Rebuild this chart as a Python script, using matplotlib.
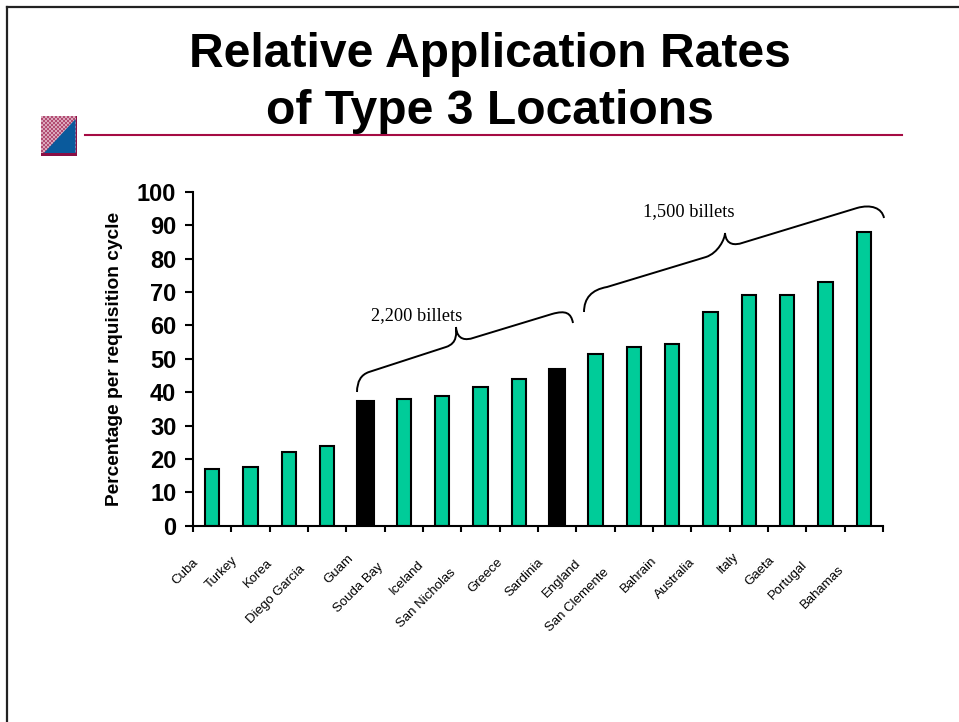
import matplotlib
matplotlib.use('Agg')
import matplotlib.pyplot as plt
from matplotlib.path import Path
from matplotlib.patches import PathPatch, Rectangle, Polygon
from matplotlib.transforms import ScaledTranslation
import numpy as np

locations = ['Cuba', 'Turkey', 'Korea', 'Diego Garcia', 'Guam', 'Souda Bay', 'Iceland',
             'San Nicholas', 'Greece', 'Sardinia', 'England', 'San Clemente', 'Bahrain',
             'Australia', 'Italy', 'Gaeta', 'Portugal', 'Bahamas']
rates = [17, 17.5, 22, 24, 37.5, 38, 39, 41.5, 44, 47, 51.5, 53.5, 54.5, 64, 69, 69, 73, 88]
highlighted = ['Guam', 'Sardinia']

# where the end of each slanted label sits relative to its bar, in pixels
label_dx = [-14, -13, -16, -22, -12, -21, -19, -25, -16, -14, -15, -25, -15, -15, -10, -13, -18, -20]
label_y = [557, 555, 557, 563, 553, 561, 559, 567, 556, 557, 557, 567, 555, 557, 551, 555, 559, 564]

W, H = 959, 722
plt.rcParams['font.family'] = ['Liberation Sans', 'DejaVu Sans']
fig = plt.figure(figsize=(W / 100, H / 100), dpi=100)

# page furniture, in pixels from top left
page = fig.add_axes([0, 0, 1, 1])
page.axis('off')
page.plot([7, 7], [H, 7], color='#222222', lw=1.6)
page.plot([7, W], [7, 7], color='#222222', lw=1.6)
page.plot([84.5, 901.5], [135, 135], color='#A50B43', lw=1.5)
# logo: dithered square, blue corner, dark edge
rows, cols = np.indices((38, 36))
checker = (rows // 2 + cols // 2) % 2 == 0
dither = np.where(checker[..., None], [0.86, 0.66, 0.74], [0.70, 0.30, 0.45])
page.imshow(dither, extent=(41, 77, 154, 116), aspect='auto', interpolation='nearest')
page.add_patch(Rectangle((41, 153), 36, 3, color='#8A0F45', lw=0))
page.add_patch(Rectangle((75.5, 116), 1.5, 40, color='#8A0F45', lw=0))
page.add_patch(Polygon([(44, 153), (75.5, 119), (75.5, 153)], color='#0A5A9C', lw=0))
page.set_xlim(0, W)
page.set_ylim(H, 0)
page.text(490, 67, 'Relative Application Rates', ha='center', va='baseline',
          fontsize=34.6, fontweight='bold')
page.text(490, 124, 'of Type 3 Locations', ha='center', va='baseline',
          fontsize=34.6, fontweight='bold')

# chart
ax = fig.add_axes([193 / W, 1 - 525.7 / H, 690 / W, 333.7 / H])
x = np.arange(len(locations))
colors = ['black' if name in highlighted else '#00CC99' for name in locations]
widths = [0.42 if name in highlighted else 0.37 for name in locations]
ax.bar(x, rates, width=widths, color=colors, edgecolor='black', linewidth=1.5)
ax.set_xlim(-0.5, len(locations) - 0.5)
ax.set_ylim(0, 100)
ax.set_yticks(np.arange(0, 101, 10))
ax.set_xticks(np.arange(len(locations) + 1) - 0.5)
ax.set_xticklabels([])
ax.set_xticks(x, minor=True)
ax.set_xticklabels(locations, minor=True, rotation=45, ha='right', va='top',
                   rotation_mode='anchor', fontsize=9.5)
ax.tick_params(axis='x', which='minor', length=0, pad=0)
ax.tick_params(axis='x', which='major', direction='out', length=4.5, width=1.5)
ax.tick_params(axis='y', direction='out', length=6, width=1.5, pad=6)
for label, dx, ly in zip(ax.get_xticklabels(minor=True), label_dx, label_y):
    shift = ScaledTranslation((dx - 6) / 100, -(ly - 526) / 100, fig.dpi_scale_trans)
    label.set_transform(label.get_transform() + shift)
for label in ax.get_yticklabels():
    label.set_fontsize(17)
    label.set_fontweight('bold')
for side in ['top', 'right']:
    ax.spines[side].set_visible(False)
for side in ['left', 'bottom']:
    ax.spines[side].set_linewidth(1.5)
ax.set_ylabel('Percentage per requisition cycle', fontsize=13.8, fontweight='bold')
ax.yaxis.set_label_coords(-0.101, 0.5)

# braces
def brace(p):
    verts = [p[0], (p[0][0], p[1][1] + 4), p[1], p[2],
             (p[2][0] + 12, p[2][1] - 4), (p[3][0], p[3][1] + 6), p[3],
             (p[3][0] + 1, p[4][1] + 3), (p[4][0] - 6, p[4][1] + 2), p[4], p[5],
             (p[5][0] + 14, p[5][1] - 4), (p[6][0] - 2, p[6][1] - 10), p[6]]
    codes = [Path.MOVETO, Path.CURVE3, Path.CURVE3, Path.LINETO,
             Path.CURVE4, Path.CURVE4, Path.CURVE4,
             Path.CURVE4, Path.CURVE4, Path.CURVE4, Path.LINETO,
             Path.CURVE4, Path.CURVE4, Path.CURVE4]
    page.add_patch(PathPatch(Path(verts, codes), fc='none', ec='black', lw=1.4))

brace([(357, 392), (369, 372), (446, 347), (456, 327), (473, 338), (552, 314), (573, 323)])
brace([(584, 312), (607, 287), (706, 257), (725, 233), (742, 243), (857, 208), (884, 218)])
page.text(417, 316, '2,200 billets', family='Liberation Serif', fontsize=13.2, ha='center', va='center')
page.text(689, 212, '1,500 billets', family='Liberation Serif', fontsize=13.2, ha='center', va='center')
page.set_zorder(3)
page.patch.set_alpha(0)

fig.savefig('out.png', dpi=100)
